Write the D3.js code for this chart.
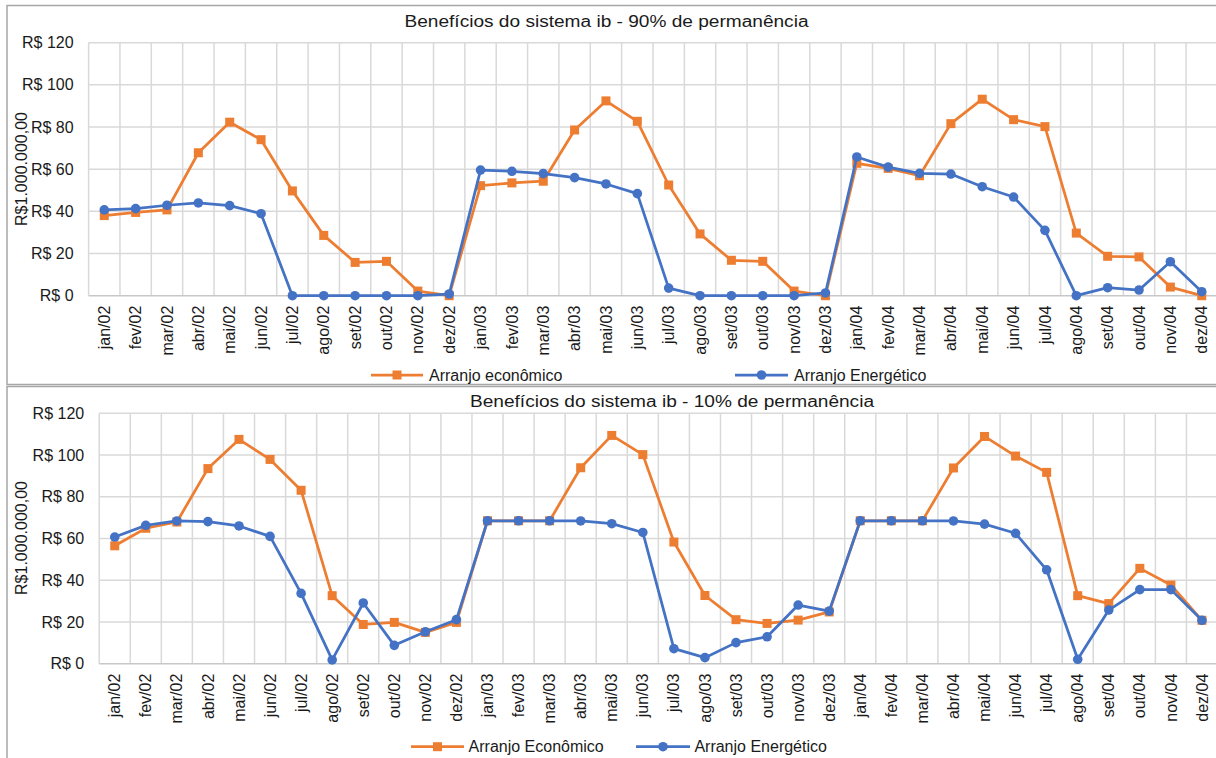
<!DOCTYPE html>
<html>
<head>
<meta charset="utf-8">
<script src="https://cdn.jsdelivr.net/npm/d3@7"></script>
<style>
  html, body { margin: 0; padding: 0; background: #fff; }
  svg { display: block; font-family: "Liberation Sans", Arial, sans-serif; }
</style>
</head>
<body>
<svg id="chart" width="1216" height="758"></svg>
<script>
// Categories (months)
const months = [
  'jan/02','fev/02','mar/02','abr/02','mai/02','jun/02','jul/02','ago/02','set/02','out/02','nov/02','dez/02',
  'jan/03','fev/03','mar/03','abr/03','mai/03','jun/03','jul/03','ago/03','set/03','out/03','nov/03','dez/03',
  'jan/04','fev/04','mar/04','abr/04','mai/04','jun/04','jul/04','ago/04','set/04','out/04','nov/04','dez/04'
];

// 90% de permanência
const econ90 = [
  38, 39.5, 40.7, 67.8, 82.3, 74, 49.7, 28.6, 15.8, 16.3, 2.2, 0,
  52.2, 53.5, 54.3, 78.6, 92.4, 82.7, 52.5, 29.3, 16.8, 16.3, 2.2, 0,
  62.8, 60.4, 56.9, 81.6, 93.2, 83.5, 80.2, 29.7, 18.7, 18.4, 4.1, 0
];
const energ90 = [
  40.7, 41.3, 42.9, 44, 42.7, 38.9, 0, 0, 0, 0, 0, 0.8,
  59.6, 59, 57.9, 56, 53, 48.4, 3.6, 0, 0, 0, 0, 1.3,
  65.8, 61, 58, 57.7, 51.7, 46.8, 31, 0, 3.8, 2.7, 16.1, 1.9
];

// 10% de permanência
const econ10 = [
  56.5, 64.9, 67.9, 93.5, 107.5, 97.9, 83.1, 32.6, 18.8, 19.8, 15, 19.8,
  68.5, 68.5, 68.5, 93.9, 109.4, 100.2, 58.3, 32.7, 21.1, 19.3, 20.9, 24.8,
  68.5, 68.5, 68.5, 93.8, 108.9, 99.5, 91.7, 32.6, 28.8, 45.7, 37.7, 20.8
];
const energ10 = [
  60.7, 66.3, 68.4, 68.1, 66, 61, 33.7, 1.8, 29.1, 8.8, 15.3, 21.1,
  68.5, 68.5, 68.5, 68.4, 67.1, 62.9, 7.2, 2.9, 10.1, 12.9, 28.1, 25.2,
  68.5, 68.5, 68.5, 68.4, 66.9, 62.5, 45, 2.1, 25.7, 35.5, 35.5, 20.8
];

const yTicks = [0, 20, 40, 60, 80, 100, 120];
const yTitle = 'R$1.000.000,00';

const ORANGE = '#ED7D31';
const BLUE = '#4472C4';
const TEXT = '#1a1a1a';

const svg = d3.select('#chart');

function drawChart(cfg) {
  const g = svg.append('g');

  // chart frame
  g.append('rect')
    .attr('x', cfg.box.x).attr('y', cfg.box.y)
    .attr('width', cfg.box.w).attr('height', cfg.box.h)
    .attr('fill', '#fff')
    .attr('stroke', '#a6a6a6')
    .attr('stroke-width', 1.5);

  const x = d3.scaleBand().domain(months).range([cfg.plot.left, cfg.plot.right]).padding(0);
  const y = d3.scaleLinear().domain([0, 120]).range([cfg.plot.bottom, cfg.plot.top]);
  const cx = d => x(d) + x.bandwidth() / 2;

  // horizontal gridlines
  g.append('g').selectAll('line')
    .data(yTicks.filter(d => d > 0))
    .join('line')
    .attr('x1', cfg.plot.left).attr('x2', cfg.plot.right)
    .attr('y1', d => y(d)).attr('y2', d => y(d))
    .attr('stroke', '#d9d9d9').attr('stroke-width', 1.5);

  // vertical gridlines at category boundaries
  const bounds = months.map(m => x(m)).concat([cfg.plot.right]);
  g.append('g').selectAll('line')
    .data(bounds)
    .join('line')
    .attr('x1', d => d).attr('x2', d => d)
    .attr('y1', cfg.plot.top).attr('y2', cfg.plot.bottom)
    .attr('stroke', '#d9d9d9').attr('stroke-width', 1.5);

  // baseline
  g.append('line')
    .attr('x1', cfg.plot.left).attr('x2', cfg.plot.right)
    .attr('y1', y(0)).attr('y2', y(0))
    .attr('stroke', '#c8c8c8').attr('stroke-width', 1.5);

  // y axis labels
  const yAxis = g.append('g')
    .attr('transform', `translate(${cfg.plot.left},0)`)
    .call(d3.axisLeft(y).tickValues(yTicks).tickSize(0).tickPadding(15).tickFormat(d => 'R$ ' + d));
  yAxis.select('.domain').remove();
  yAxis.selectAll('text').attr('font-size', 16).attr('fill', TEXT)
    .attr('font-family', '"Liberation Sans", Arial, sans-serif');

  // x axis labels (rotated)
  const xAxis = g.append('g')
    .attr('transform', `translate(0,${cfg.plot.bottom})`)
    .call(d3.axisBottom(x).tickSize(0));
  xAxis.select('.domain').remove();
  xAxis.selectAll('text')
    .attr('font-size', 16).attr('fill', TEXT)
    .attr('font-family', '"Liberation Sans", Arial, sans-serif')
    .attr('transform', 'rotate(-90)')
    .attr('x', -10).attr('y', 0).attr('dy', '0.35em')
    .attr('text-anchor', 'end');

  // y axis title
  g.append('text')
    .attr('transform', `translate(${cfg.ylabel.x},${cfg.ylabel.y}) rotate(-90)`)
    .attr('text-anchor', 'middle').attr('dy', '0.35em')
    .attr('font-size', 16).attr('fill', TEXT)
    .text(yTitle);

  // title
  g.append('text')
    .attr('x', cfg.title.x).attr('y', cfg.title.y)
    .attr('text-anchor', 'middle').attr('dy', '0.35em')
    .attr('font-size', 16).attr('fill', TEXT)
    .attr('textLength', cfg.title.len).attr('lengthAdjust', 'spacingAndGlyphs')
    .text(cfg.title.text);

  const line = d3.line().x((d, i) => cx(months[i])).y(d => y(d));

  // Econômico series (squares)
  g.append('path').datum(cfg.econ)
    .attr('d', line).attr('fill', 'none')
    .attr('stroke', ORANGE).attr('stroke-width', 2.75).attr('stroke-linejoin', 'round');
  g.append('g').selectAll('rect')
    .data(cfg.econ)
    .join('rect')
    .attr('x', (d, i) => cx(months[i]) - 4.5).attr('y', d => y(d) - 4.5)
    .attr('width', 9).attr('height', 9)
    .attr('fill', ORANGE);

  // Energético series (circles)
  g.append('path').datum(cfg.energ)
    .attr('d', line).attr('fill', 'none')
    .attr('stroke', BLUE).attr('stroke-width', 2.75).attr('stroke-linejoin', 'round');
  g.append('g').selectAll('circle')
    .data(cfg.energ)
    .join('circle')
    .attr('cx', (d, i) => cx(months[i])).attr('cy', d => y(d))
    .attr('r', 4.8)
    .attr('fill', BLUE);

  // legend
  const leg = g.append('g');
  cfg.legend.items.forEach((it, i) => {
    const col = i === 0 ? ORANGE : BLUE;
    leg.append('line')
      .attr('x1', it.x1).attr('x2', it.x2)
      .attr('y1', cfg.legend.y).attr('y2', cfg.legend.y)
      .attr('stroke', col).attr('stroke-width', 2.75);
    const mx = (it.x1 + it.x2) / 2;
    if (i === 0) {
      leg.append('rect').attr('x', mx - 4.5).attr('y', cfg.legend.y - 4.5)
        .attr('width', 9).attr('height', 9).attr('fill', col);
    } else {
      leg.append('circle').attr('cx', mx).attr('cy', cfg.legend.y).attr('r', 4.8).attr('fill', col);
    }
    leg.append('text')
      .attr('x', it.tx).attr('y', cfg.legend.y).attr('dy', '0.35em')
      .attr('font-size', 16).attr('fill', TEXT)
      .text(cfg.names[i]);
  });
}

drawChart({
  box: { x: 7, y: 5.5, w: 1240, h: 379 },
  plot: { left: 88.6, right: 1217.4, top: 42.7, bottom: 295.7 },
  title: { x: 606.5, y: 21, len: 404, text: 'Benefícios do sistema ib - 90% de permanência' },
  ylabel: { x: 21.7, y: 169 },
  legend: { y: 375, items: [{ x1: 371, x2: 423, tx: 429 }, { x1: 735, x2: 788, tx: 794 }] },
  names: ['Arranjo econômico', 'Arranjo Energético'],
  econ: econ90,
  energ: energ90
});

drawChart({
  box: { x: 7, y: 386.5, w: 1240, h: 400 },
  plot: { left: 99.2, right: 1217.5, top: 413.3, bottom: 663.7 },
  title: { x: 672, y: 401.7, len: 404, text: 'Benefícios do sistema ib - 10% de permanência' },
  ylabel: { x: 21.7, y: 538 },
  legend: { y: 746.7, items: [{ x1: 411, x2: 464, tx: 468.6 }, { x1: 636, x2: 690, tx: 694.4 }] },
  names: ['Arranjo Econômico', 'Arranjo Energético'],
  econ: econ10,
  energ: energ10
});
</script>
</body>
</html>
